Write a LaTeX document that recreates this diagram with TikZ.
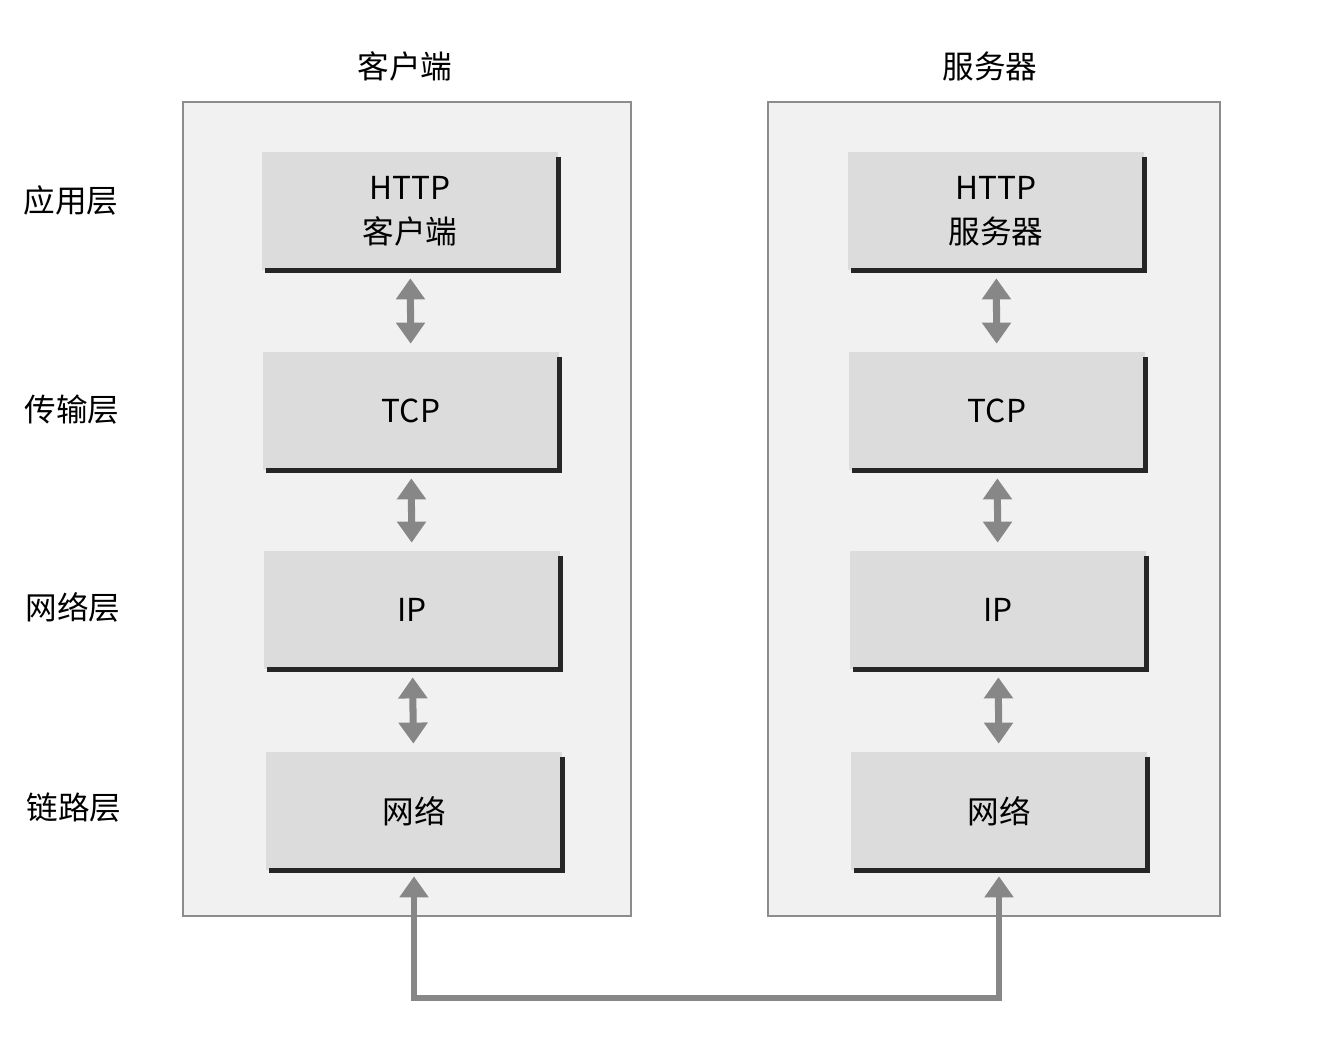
\documentclass[tikz,border=0pt]{standalone}
\usepackage{fontspec}
\setmainfont{Noto Sans CJK SC}
\usetikzlibrary{arrows.meta, positioning}

\definecolor{panelfill}{HTML}{F1F1F1}
\definecolor{panelline}{HTML}{8C8C8C}
\definecolor{layerfill}{HTML}{DCDCDC}
\definecolor{arrowgray}{HTML}{878787}
\definecolor{shadowdark}{HTML}{262626}

\tikzset{
    panel/.style={draw=panelline, fill=panelfill, line width=0.8pt,
        minimum width=8.96cm, minimum height=16.28cm, inner sep=0pt},
    layerbox/.style={fill=layerfill, minimum width=5.92cm, minimum height=2.36cm,
        inner sep=0pt, align=center, font=\fontsize{18}{25}\selectfont},
    layername/.style={font=\fontsize{18}{22}\selectfont},
    boxshadow/.style={draw=shadowdark, line width=2.8pt},
    stackarrow/.style={draw=arrowgray, line width=4pt,
        {Triangle[width=16pt,length=12pt]}-{Triangle[width=16pt,length=12pt]},
        shorten <=0.16cm, shorten >=0.16cm},
    busline/.style={draw=arrowgray, line width=3.4pt,
        {Triangle[width=16pt,length=12pt]}-{Triangle[width=16pt,length=12pt]},
        shorten <=0.12cm, shorten >=0.12cm},
}

\begin{document}
\begin{tikzpicture}[x=0.02cm, y=-0.02cm]

    \useasboundingbox (0,0) rectangle (1342,1048);

    % =================================================================
    % 1. HAI KHUNG: CLIENT VA SERVER
    % =================================================================
    \node[panel] (client) at (407,509) {};
    \node[panel, minimum width=9.04cm] (server) at (994,509) {};

    \node[layername] (clienttitle) at (405,66) {客户端};
    \node[layername] (servertitle) at (990,66) {服务器};

    % =================================================================
    % 2. CAC TANG (BEN TRAI: TEN TANG)
    % =================================================================
    \node[layername] (lapp)  at (71,200) {应用层};
    \node[layername] (ltran) at (72,410) {传输层};
    \node[layername] (lnet)  at (73,607) {网络层};
    \node[layername] (llink) at (74,808) {链路层};

    % Cac hop tang phia client
    \node[layerbox] (c1) at (410,211) {HTTP\\客户端};
    \node[layerbox] (c2) at (411,411) {TCP};
    \node[layerbox] (c3) at (412,610) {IP};
    \node[layerbox] (c4) at (414,811) {网络};

    % Cac hop tang phia server
    \node[layerbox] (s1) at (996,211) {HTTP\\服务器};
    \node[layerbox] (s2) at (997,411) {TCP};
    \node[layerbox] (s3) at (998,610) {IP};
    \node[layerbox] (s4) at (999,811) {网络};

    % Bong den o canh phai va canh duoi
    \foreach \b in {c1,c2,c3,c4,s1,s2,s3,s4} {
        \draw[boxshadow] ([yshift=-0.1cm]\b.north east) -- (\b.south east) -- ([xshift=0.06cm]\b.south west);
    }

    % =================================================================
    % 3. MUI TEN HAI DAU GIUA CAC TANG
    % =================================================================
    \foreach \a/\b in {c1/c2, c2/c3, c3/c4, s1/s2, s2/s3, s3/s4} {
        \draw[stackarrow] (\a) -- (\b);
    }

    % Duong noi mang giua hai may
    \coordinate (bus) at (700,998);
    \draw[busline] (c4) |- (bus) -| (s4);

\end{tikzpicture}
\end{document}
